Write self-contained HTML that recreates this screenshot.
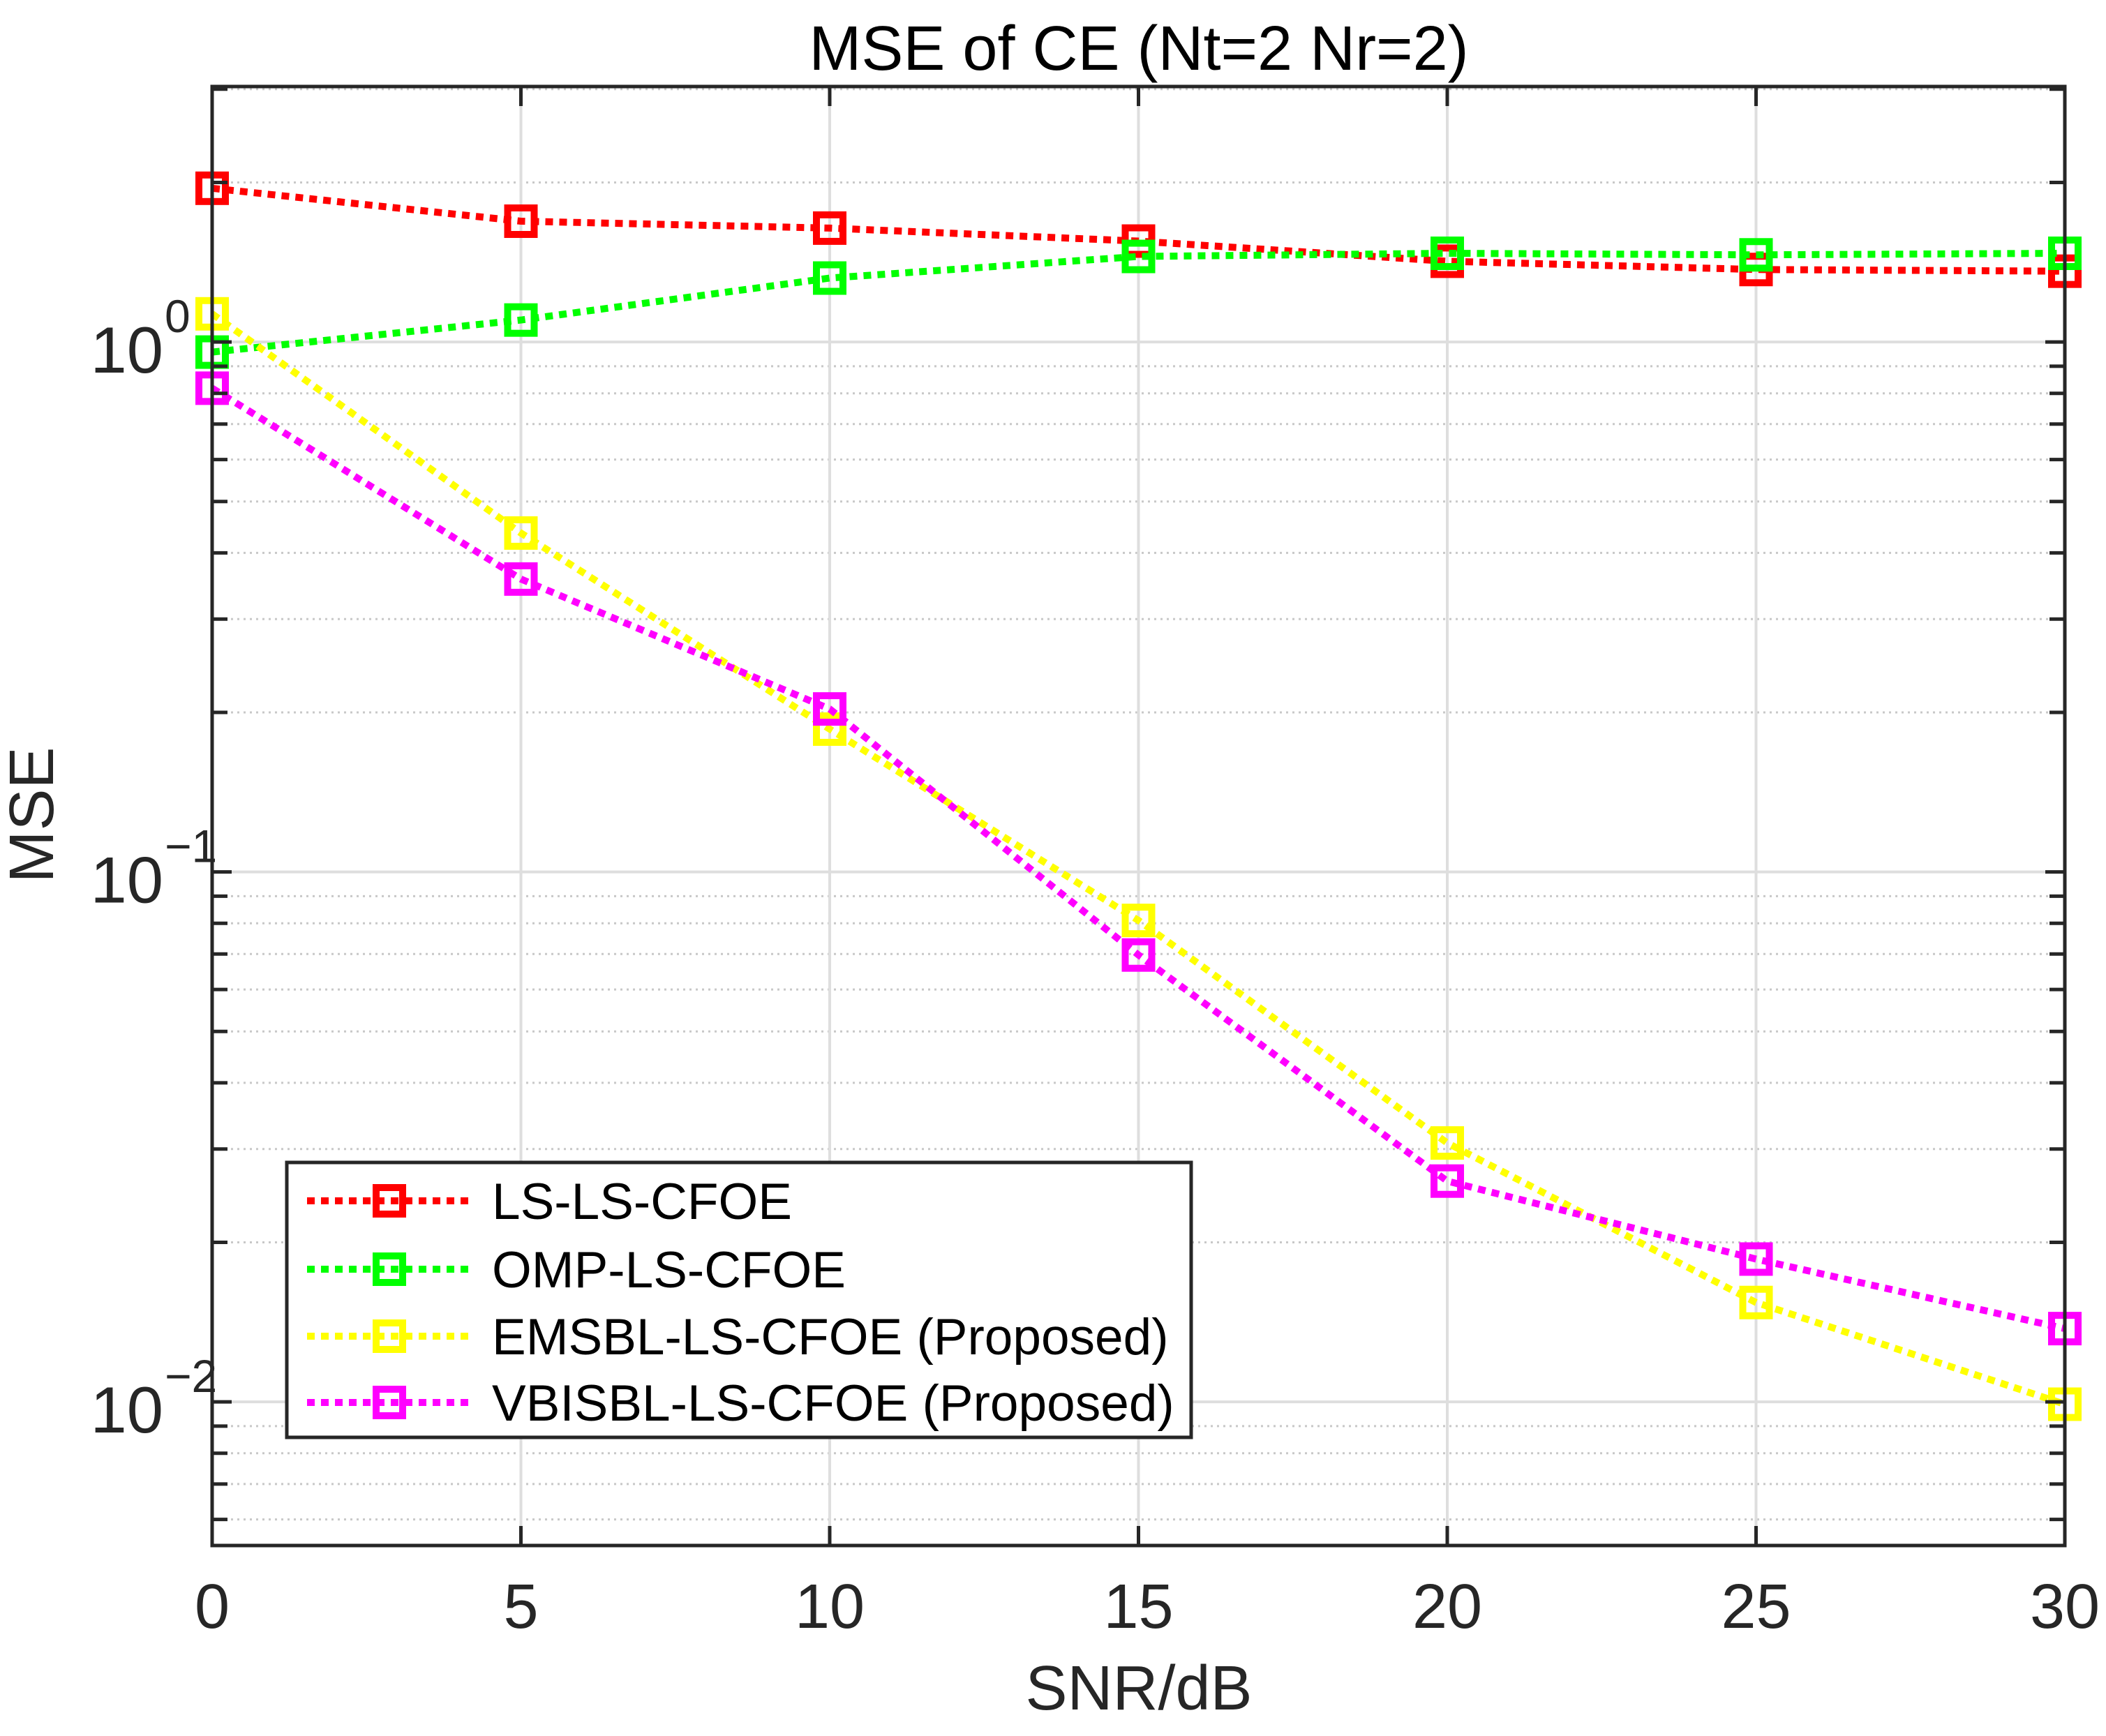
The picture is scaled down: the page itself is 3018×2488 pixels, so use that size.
<!DOCTYPE html>
<html><head><meta charset="utf-8"><style>
html,body{margin:0;padding:0;background:#fff;}
svg{display:block;font-family:"Liberation Sans",Arial,sans-serif;}
</style></head><body>
<svg id="chart" width="3018" height="2488" viewBox="0 0 3018 2488" xmlns="http://www.w3.org/2000/svg">
<rect x="0" y="0" width="3018" height="2488" fill="#fff"/>
<g id="grid"></g>
<g id="series"></g>
<g id="axes"></g>
<text x="1632" y="100" font-size="90" text-anchor="middle" fill="#000">MSE of CE (Nt=2 Nr=2)</text>
<text x="1632" y="2450" font-size="90" text-anchor="middle" fill="#262626">SNR/dB</text>
<text x="0" y="0" font-size="90" text-anchor="middle" fill="#262626" transform="translate(76,1168) rotate(-90)">MSE</text>
<g id="legend"></g>
</svg>
<script>
const snr = [0, 5, 10, 15, 20, 25, 30];
const lsMse = [1.95, 1.69, 1.64, 1.55, 1.42, 1.37, 1.36];
const ompMse = [0.957, 1.10, 1.32, 1.45, 1.47, 1.46, 1.47];
const emsblMse = [1.13, 0.436, 0.186, 0.081, 0.0308, 0.0154, 0.0099];
const vbisblMse = [0.818, 0.357, 0.203, 0.0697, 0.0261, 0.0186, 0.01375];
const seriesNames = ["LS-LS-CFOE", "OMP-LS-CFOE", "EMSBL-LS-CFOE (Proposed)", "VBISBL-LS-CFOE (Proposed)"];
const seriesColors = ["#ff0000", "#00ff00", "#ffff00", "#ff00ff"];
const xTicks = [0, 5, 10, 15, 20, 25, 30];
const yDecades = [-2, -1, 0];

const L = 304, R = 2959, T = 124, B = 2215;
const xMin = 0, xMax = 30, lgMin = -2.271, lgMax = 0.482;
const NS = "http://www.w3.org/2000/svg";
function X(v){ return L + (v - xMin) / (xMax - xMin) * (R - L); }
function Y(v){ return T + (lgMax - Math.log10(v)) / (lgMax - lgMin) * (B - T); }
function mk(tag, attrs, parent){ const e = document.createElementNS(NS, tag); for (const k in attrs) e.setAttribute(k, attrs[k]); parent.appendChild(e); return e; }

const grid = document.getElementById('grid');
const axes = document.getElementById('axes');
for (let d = -3; d <= 0; d++) {
  for (let m = 2; m <= 9; m++) {
    const v = m * Math.pow(10, d);
    const y = Y(v);
    if (y < T || y > B) continue;
    const g = mk('line', {x1: L, x2: R, y1: y, y2: y, stroke: '#c8c8c8', 'stroke-width': 3, 'stroke-dasharray': '3 6'}, grid);
    
    
    const t1 = mk('line', {x1: L, x2: L + 22, y1: y, y2: y, stroke: '#262626', 'stroke-width': 5}, axes);
    
    
    const t2 = mk('line', {x1: R - 22, x2: R, y1: y, y2: y, stroke: '#262626', 'stroke-width': 5}, axes);
    
    
  }
}
yDecades.forEach(d => {
  const y = Y(Math.pow(10, d));
  const g = mk('line', {x1: L, x2: R, y1: y, y2: y, stroke: '#dedede', 'stroke-width': 4}, grid);
  
  
  [[L, L + 28], [R - 28, R]].forEach(p => {
    const t = mk('line', {x1: p[0], x2: p[1], y1: y, y2: y, stroke: '#262626', 'stroke-width': 5}, axes);
    
    
  });
  const tx = mk('text', {x: 234, y: y + 44, 'font-size': 94, 'text-anchor': 'end', fill: '#262626'}, axes);
  
  
  tx.textContent = '10';
  const sup = mk('text', {x: 236, y: y - 14, 'font-size': 66, 'text-anchor': 'start', fill: '#262626'}, axes);
  
  
  sup.textContent = d === 0 ? '0' : '\u2212' + (-d);
});
xTicks.forEach(v => {
  const x = X(v);
  const g = mk('line', {x1: x, x2: x, y1: T, y2: B, stroke: '#dedede', 'stroke-width': 4}, grid);
  
  
  [[B - 28, B], [T, T + 28]].forEach(p => {
    const t = mk('line', {x1: x, x2: x, y1: p[0], y2: p[1], stroke: '#262626', 'stroke-width': 5}, axes);
    
    
  });
  const tx = mk('text', {x: x, y: 2333, 'font-size': 90, 'text-anchor': 'middle', fill: '#262626'}, axes);
  
  
  tx.textContent = v;
});
const frame = mk('rect', {x: L, y: T, width: R - L, height: B - T, fill: 'none', stroke: '#262626', 'stroke-width': 5}, axes);



const seriesEl = document.getElementById('series');
const allData = [lsMse, ompMse, emsblMse, vbisblMse];
const seriesKeys = ['ls-ls-cfoe', 'omp-ls-cfoe', 'emsbl-ls-cfoe', 'vbisbl-ls-cfoe'];
allData.forEach((data, i) => {
  const pts = snr.map((s, j) => X(s) + ',' + Y(data[j])).join(' ');
  const pl = mk('polyline', {points: pts, fill: 'none', stroke: seriesColors[i], 'stroke-width': 10, 'stroke-dasharray': '11 9'}, seriesEl);
  
  
  snr.forEach((s, j) => {
    const m = mk('rect', {x: X(s) - 19, y: Y(data[j]) - 19, width: 38, height: 38, fill: 'none', stroke: seriesColors[i], 'stroke-width': 10}, seriesEl);
    
    
  });
});

const lg = document.getElementById('legend');
const box = mk('rect', {x: 411, y: 1666, width: 1296, height: 394, fill: '#fff', stroke: '#262626', 'stroke-width': 5}, lg);


const rowY = [1721, 1819, 1915, 2010];
seriesNames.forEach((n, i) => {
  const y = rowY[i];
  const l = mk('line', {x1: 440, x2: 680, y1: y, y2: y, stroke: seriesColors[i], 'stroke-width': 10, 'stroke-dasharray': '11 9'}, lg);
  
  
  const m = mk('rect', {x: 558 - 19, y: y - 19, width: 38, height: 38, fill: 'none', stroke: seriesColors[i], 'stroke-width': 10}, lg);
  
  
  const t = mk('text', {x: 705, y: y + 26, 'font-size': 73, fill: '#000'}, lg);
  
  
  t.textContent = n;
});
</script>
</body></html>
